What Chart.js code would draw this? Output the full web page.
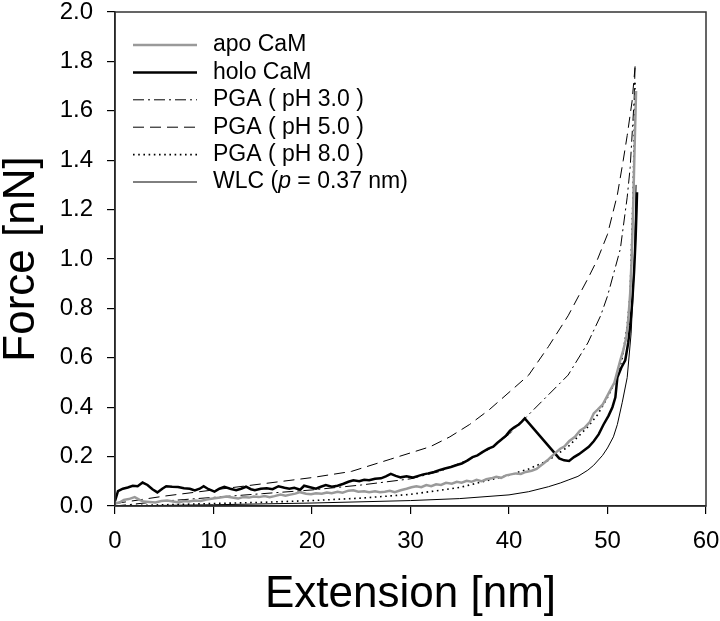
<!DOCTYPE html>
<html><head><meta charset="utf-8">
<script src="https://cdn.jsdelivr.net/npm/chart.js@4.4.0/dist/chart.umd.min.js"></script>
<style>html,body{margin:0;padding:0;background:#fff}</style>
</head><body>
<canvas id="c" width="720" height="621"></canvas>
<script>
const FONT = "'Liberation Sans', Arial, sans-serif";

const seriesLabels = ['apo CaM', 'holo CaM', 'PGA ( pH 3.0 )', 'PGA ( pH 5.0 )', 'PGA ( pH 8.0 )', 'WLC (p = 0.37 nm)'];
const xTicks = [0, 10, 20, 30, 40, 50, 60];
const yTicks = [0.0, 0.2, 0.4, 0.6, 0.8, 1.0, 1.2, 1.4, 1.6, 1.8, 2.0];

const apoX = [0,0.5,0.9,1.4,2.0,2.5,2.9,3.5,4.1,4.7,5.3,5.9,6.5,7.0,7.5,8.1,8.7,9.3,10.1,10.7,11.3,11.9,12.5,13.0,13.6,14.1,14.6,15.2,15.7,16.2,16.8,17.3,17.8,18.3,18.8,19.4,19.9,20.4,21.0,21.5,22.0,22.6,23.1,23.7,24.2,24.7,25.3,25.8,26.4,26.9,27.4,27.9,28.4,29.0,29.6,30.1,30.6,31.1,31.6,32.1,32.6,33.1,33.6,34.2,34.7,35.2,35.7,36.2,36.7,37.2,37.7,38.2,38.7,39.2,39.7,40.2,40.7,41.2,41.7,42.3,42.8,43.1,43.5,43.9,44.3,44.8,45.2,45.6,46.1,46.7,47.2,47.7,48.2,48.6,49.0,49.5,49.9,50.3,50.7,51.0,51.3,51.6,51.9,52.1,52.3,52.45,52.6,52.75,52.9];
const apoY = [0.01,0.015,0.025,0.028,0.036,0.025,0.018,0.016,0.014,0.02,0.022,0.018,0.014,0.02,0.018,0.022,0.02,0.026,0.031,0.034,0.038,0.034,0.03,0.036,0.034,0.038,0.036,0.04,0.036,0.04,0.046,0.042,0.046,0.05,0.056,0.05,0.048,0.052,0.05,0.055,0.052,0.058,0.054,0.062,0.064,0.058,0.06,0.056,0.06,0.056,0.058,0.062,0.056,0.064,0.07,0.076,0.08,0.076,0.085,0.08,0.088,0.085,0.094,0.09,0.098,0.094,0.102,0.098,0.106,0.1,0.108,0.112,0.118,0.114,0.124,0.128,0.132,0.13,0.138,0.143,0.15,0.16,0.172,0.185,0.2,0.218,0.232,0.24,0.262,0.28,0.305,0.318,0.34,0.375,0.39,0.41,0.44,0.47,0.5,0.545,0.59,0.63,0.68,0.75,0.86,1.0,1.2,1.45,1.68];

const holoX = [0,0.3,0.8,1.3,1.8,2.3,2.8,3.3,3.8,4.3,4.8,5.2,5.8,6.4,7.0,7.6,8.1,8.6,9.0,9.5,10.1,10.6,11.1,11.7,12.3,12.8,13.3,13.8,14.2,14.8,15.4,16.0,16.6,17.2,17.7,18.2,18.8,19.2,19.8,20.4,20.9,21.4,22.0,22.6,23.2,23.7,24.2,24.8,25.3,25.8,26.4,27.0,27.5,28.0,28.5,29.0,29.6,30.2,30.8,31.3,31.8,32.4,33.0,33.5,34.1,34.7,35.2,35.8,36.3,36.8,37.3,37.9,38.4,38.8,39.2,39.7,40.1,40.5,41.0,41.3,41.6,45.1,45.6,46.1,46.6,47.1,47.6,48.1,48.6,49.1,49.6,50.1,50.5,50.8,51.0,51.4,51.8,52.1,52.3,52.5,52.7,52.85,52.95,53.0];
const holoY = [0.02,0.06,0.07,0.075,0.082,0.08,0.095,0.085,0.068,0.055,0.07,0.08,0.078,0.077,0.072,0.07,0.063,0.07,0.08,0.068,0.058,0.07,0.078,0.07,0.064,0.07,0.078,0.068,0.064,0.07,0.072,0.068,0.08,0.074,0.07,0.074,0.066,0.082,0.076,0.07,0.078,0.085,0.078,0.082,0.09,0.098,0.104,0.1,0.106,0.104,0.11,0.112,0.12,0.13,0.122,0.116,0.12,0.115,0.122,0.128,0.132,0.138,0.146,0.152,0.158,0.166,0.172,0.185,0.198,0.205,0.218,0.232,0.24,0.255,0.268,0.285,0.305,0.318,0.33,0.342,0.355,0.193,0.185,0.182,0.198,0.21,0.225,0.24,0.262,0.29,0.33,0.365,0.4,0.44,0.52,0.56,0.59,0.66,0.73,0.82,0.95,1.08,1.2,1.27];

const ph3X = [0,5,10,15,20,25,30,33,36,38,40,42,44,46,48,49.3,50,51.3,52,52.3,52.7,52.8];
const ph3Y = [0.0,0.02,0.035,0.05,0.065,0.085,0.11,0.14,0.19,0.23,0.29,0.37,0.45,0.53,0.66,0.77,0.85,1.04,1.25,1.37,1.64,1.78];

const ph5X = [0,5,10,15,20,24,28,32,34,36,38,40,42,44,46,48,49,50,51,51.6,52,52.5,52.8];
const ph5Y = [0.01,0.04,0.065,0.09,0.115,0.14,0.19,0.24,0.28,0.33,0.39,0.46,0.53,0.645,0.77,0.92,1.0,1.1,1.26,1.4,1.5,1.64,1.78];

const ph8X = [0,5,10,15,20,25,30,35,38,40,42,44,46,47,48,49,50,51,51.5,52,52.3,52.6,52.8];
const ph8Y = [0.0,0.005,0.01,0.015,0.022,0.032,0.047,0.075,0.105,0.125,0.15,0.185,0.24,0.28,0.32,0.37,0.44,0.52,0.6,0.73,0.86,1.27,1.72];

const wlcX = [0,10,20,30,35,40,42,44,45.2,46,47,48,48.6,49.5,50,50.6,51,51.5,52,52.4,52.7,52.9];
const wlcY = [0,0.005,0.012,0.022,0.03,0.045,0.058,0.078,0.093,0.105,0.12,0.145,0.165,0.205,0.235,0.28,0.33,0.42,0.52,0.7,0.95,1.3];

const pts = (xs, ys) => xs.map((x, i) => ({x: x, y: ys[i]}));

const insideLegend = {
  id: 'insideLegend',
  afterDraw(chart) {
    const ctx = chart.ctx, a = chart.chartArea;
    ctx.save();
    ctx.strokeStyle = '#333';
    ctx.lineWidth = 1.5;
    ctx.strokeRect(a.left, a.top, a.right - a.left, a.bottom - a.top);
    chart.data.datasets.forEach((ds, i) => {
      const y = a.top + 33 + i * 27.4;
      ctx.beginPath();
      ctx.setLineDash(ds.borderDash || []);
      ctx.lineWidth = ds.borderWidth;
      ctx.strokeStyle = ds.borderColor;
      ctx.moveTo(a.left + 18, y);
      ctx.lineTo(a.left + 82, y);
      ctx.stroke();
      ctx.setLineDash([]);
      ctx.fillStyle = '#000';
      ctx.textBaseline = 'middle';
      ctx.textAlign = 'left';
      let tx = a.left + 98;
      const lab = ds.label;
      const m = lab.match(/^(.*\()p( = .*)$/);
      if (m) {
        ctx.font = '23px ' + FONT;
        ctx.fillText(m[1], tx, y); tx += ctx.measureText(m[1]).width;
        ctx.font = 'italic 23px ' + FONT;
        ctx.fillText('p', tx, y); tx += ctx.measureText('p').width;
        ctx.font = '23px ' + FONT;
        ctx.fillText(m[2], tx, y);
      } else {
        ctx.font = '23px ' + FONT;
        ctx.fillText(lab, tx, y);
      }
    });
    ctx.restore();
  }
};

const lineDs = (label, data, color, width, dash) => ({
  label: label, data: data, borderColor: color, borderWidth: width, borderDash: dash,
  showLine: true, pointRadius: 0, fill: false, tension: 0
});

new Chart(document.getElementById('c'), {
  type: 'scatter',
  data: {
    datasets: [
      lineDs(seriesLabels[0], pts(apoX, apoY), '#9a9a9a', 2.5, []),
      lineDs(seriesLabels[1], pts(holoX, holoY), '#000', 2.5, []),
      lineDs(seriesLabels[2], pts(ph3X, ph3Y), '#000', 1, [11, 4, 2, 4]),
      lineDs(seriesLabels[3], pts(ph5X, ph5Y), '#000', 1, [11, 6]),
      lineDs(seriesLabels[4], pts(ph8X, ph8Y), '#000', 1.6, [1.6, 3.6]),
      lineDs(seriesLabels[5], pts(wlcX, wlcY), '#000', 1, [])
    ]
  },
  options: {
    responsive: false,
    animation: false,
    devicePixelRatio: 1,
    layout: { padding: { left: 0, top: 12, right: 14, bottom: 0 } },
    plugins: { legend: { display: false }, tooltip: { enabled: false } },
    scales: {
      x: {
        type: 'linear', min: 0, max: 60,
        afterBuildTicks: (s) => { s.ticks = xTicks.map(v => ({value: v})); },
        afterFit: (s) => { s.height = 115; s.paddingLeft = 0; s.paddingRight = 0; },
        grid: { display: true, drawOnChartArea: false, drawTicks: true, tickLength: 8, color: '#000', lineWidth: 1.2 },
        border: { display: true, color: '#000', width: 1.5 },
        ticks: { color: '#000', font: { family: FONT, size: 24 }, padding: 13, maxRotation: 0, callback: (v) => String(v) },
        title: { display: true, text: 'Extension [nm]', color: '#000', font: { family: FONT, size: 44 }, padding: { top: 2, bottom: 0 } }
      },
      y: {
        type: 'linear', min: 0, max: 2.0,
        afterBuildTicks: (s) => { s.ticks = yTicks.map(v => ({value: v})); },
        afterFit: (s) => { s.width = 115; s.paddingTop = 0; s.paddingBottom = 0; },
        grid: { display: true, drawOnChartArea: false, drawTicks: true, tickLength: 8, color: '#000', lineWidth: 1.2 },
        border: { display: true, color: '#000', width: 1.5 },
        ticks: { color: '#000', font: { family: FONT, size: 24 }, padding: 14, callback: (v) => Number(v).toFixed(1) },
        title: { display: true, text: 'Force [nN]', color: '#000', font: { family: FONT, size: 44, lineHeight: 1.0 }, padding: { top: 0, bottom: 0 } }
      }
    }
  },
  plugins: [insideLegend]
});
</script>
</body></html>
